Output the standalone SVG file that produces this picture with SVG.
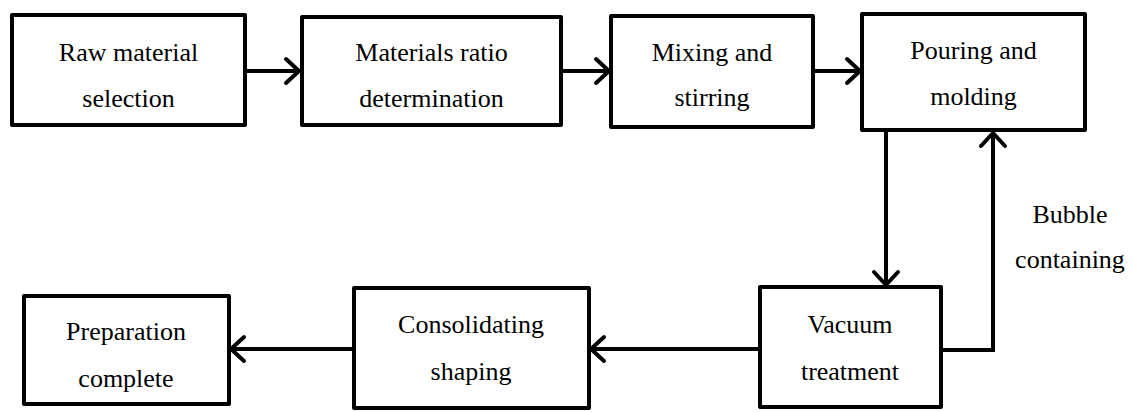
<svg xmlns="http://www.w3.org/2000/svg" width="1132" height="412" viewBox="0 0 1132 412">
<style>
.box{fill:#fff;stroke:#000;stroke-width:4;stroke-linejoin:round}
text{font-family:'Liberation Serif','Times New Roman',serif;font-size:26px;fill:#000;text-anchor:middle}
.c{fill:none;stroke:#000;stroke-width:4;stroke-linejoin:miter}
</style>
<defs>
<marker id="ah" markerUnits="userSpaceOnUse" viewBox="-20 -15 24 30" refX="0" refY="0" markerWidth="24" markerHeight="30" orient="auto">
<path d="M-15,-12 L-2,0 L-15,12" fill="none" stroke="#000" stroke-width="4" stroke-linecap="round" stroke-linejoin="round"/>
</marker>
</defs>
<rect width="1132" height="412" fill="#fff"/>
<g id="connectors">
<line class="c" x1="245" y1="71" x2="301" y2="71" marker-end="url(#ah)"/>
<line class="c" x1="561" y1="71" x2="611" y2="71" marker-end="url(#ah)"/>
<line class="c" x1="813" y1="71" x2="862" y2="71" marker-end="url(#ah)"/>
<line class="c" x1="886" y1="131" x2="886" y2="287" marker-end="url(#ah)"/>
<polyline class="c" points="941,350 993,350 993,131" marker-end="url(#ah)"/>
<line class="c" x1="760" y1="349" x2="589" y2="349" marker-end="url(#ah)"/>
<line class="c" x1="354" y1="349" x2="229" y2="349" marker-end="url(#ah)"/>
</g>
<g id="n1"><rect class="box" x="12" y="15" width="233" height="110"/><text x="128.5" y="61">Raw material</text><text x="128.5" y="107">selection</text></g>
<g id="n2"><rect class="box" x="302" y="17" width="259" height="108"/><text x="431.5" y="61">Materials ratio</text><text x="431.5" y="107">determination</text></g>
<g id="n3"><rect class="box" x="611" y="16" width="202" height="111"/><text x="712" y="61">Mixing and</text><text x="712" y="106">stirring</text></g>
<g id="n4"><rect class="box" x="862" y="14" width="223" height="116"/><text x="973.5" y="59">Pouring and</text><text x="973.5" y="105">molding</text></g>
<g id="n5"><rect class="box" x="760" y="287" width="181" height="120"/><text x="850" y="333">Vacuum</text><text x="850" y="380">treatment</text></g>
<g id="n6"><rect class="box" x="354" y="288" width="235" height="120"/><text x="471" y="333">Consolidating</text><text x="471" y="380">shaping</text></g>
<g id="n7"><rect class="box" x="24" y="296" width="205" height="108"/><text x="126" y="340">Preparation</text><text x="126" y="387">complete</text></g>
<g id="label"><text x="1070" y="223">Bubble</text><text x="1070" y="268">containing</text></g>
</svg>
